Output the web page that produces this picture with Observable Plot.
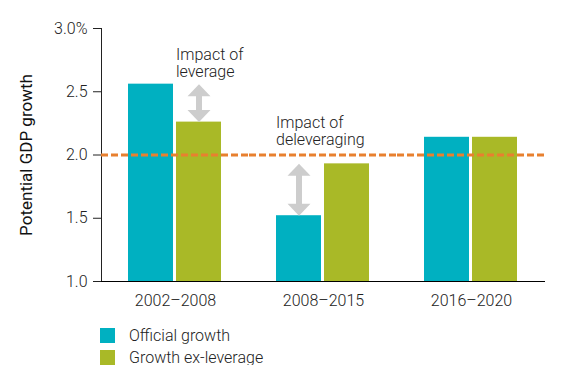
<!DOCTYPE html>
<html><head><meta charset="utf-8">
<script src="https://cdn.jsdelivr.net/npm/d3@7"></script>
<script src="https://cdn.jsdelivr.net/npm/@observablehq/plot@0.6"></script>
<style>
body{margin:0;background:#fff;font-family:Roboto,sans-serif;}
#legend{padding-left:100px;margin-top:6px;}
.row{display:flex;align-items:center;height:22px;font-size:16px;font-weight:300;color:#222;font-family:Roboto,sans-serif;}
.sw{width:15px;height:15px;margin-right:14px;flex:none;}
svg [aria-label="y-axis label"] text{font-size:17px;font-weight:400;fill:#111;}
</style></head><body><div id="chart"></div><div id="legend"></div>
<script>
const periods = ["2002–2008", "2008–2015", "2016–2020"];
const seriesNames = ["Official growth", "Growth ex-leverage"];
const officialGrowth = [2.56, 1.52, 2.14];
const exLeverageGrowth = [2.26, 1.93, 2.14];
const seriesColors = ["#00b0c1", "#a9b927"];
const yTicks = [1, 1.5, 2, 2.5, 3];
const yTickLabels = ["1.0", "1.5", "2.0", "2.5", "3.0%"];
const yLabel = "Potential GDP growth";
const referenceValue = [2.0];
const baselineValue = [1.0];
const annotationTexts = ["Impact of\nleverage", "Impact of\ndeleveraging"];
const annotationPeriods = ["2002–2008", "2008–2015"];
const annotationSeries = ["Growth ex-leverage", "Official growth"];
const annotationY = [2.85, 2.31];

const bars = [];
periods.forEach((p, i) => {
  bars.push({period: p, series: seriesNames[0], value: officialGrowth[i]});
  bars.push({period: p, series: seriesNames[1], value: exLeverageGrowth[i]});
});
const arrows = annotationPeriods.map((p, k) => {
  const i = periods.indexOf(p);
  return {period: p, series: annotationSeries[k],
    hi: Math.max(officialGrowth[i], exLeverageGrowth[i]),
    lo: Math.min(officialGrowth[i], exLeverageGrowth[i])};
});
const annotations = annotationPeriods.map((p, k) => ({period: p, series: annotationSeries[k], y: annotationY[k], text: annotationTexts[k]}));

const headUp = {draw(ctx) { ctx.moveTo(0, 0); ctx.lineTo(11.5, 12); ctx.lineTo(-11.5, 12); ctx.closePath(); }};
const headDown = {draw(ctx) { ctx.moveTo(0, 0); ctx.lineTo(11.5, -12); ctx.lineTo(-11.5, -12); ctx.closePath(); }};
const arrowGray = "#cdcdcd";

const chart = Plot.plot({
  width: 584,
  height: 318,
  marginLeft: 101,
  marginRight: 39,
  marginTop: 28,
  marginBottom: 37,
  style: {fontFamily: "Roboto, sans-serif", fontSize: "16px", fontWeight: 300, color: "#222", background: "#fff"},
  fx: {domain: periods, padding: 0, label: null, tickSize: 0, tickPadding: 13},
  x: {domain: seriesNames, axis: null, paddingInner: 0.06, paddingOuter: 0.56},
  y: {domain: [1, 3], ticks: yTicks, tickFormat: d => yTickLabels[yTicks.indexOf(d)], tickSize: 8, tickPadding: 6,
      line: true, label: yLabel, labelAnchor: "center", labelArrow: "none", labelOffset: 82},
  color: {domain: seriesNames, range: seriesColors},
  marks: [
    Plot.barY(bars, {fx: "period", x: "series", y1: 1, y2: "value", fill: "series"}),
    Plot.ruleX(arrows, {fx: "period", x: "series", y1: "hi", y2: "lo", stroke: arrowGray, strokeWidth: 6, insetTop: 11, insetBottom: 11}),
    Plot.dot(arrows, {fx: "period", x: "series", y: "hi", symbol: headUp, fill: arrowGray, stroke: null, r: 8}),
    Plot.dot(arrows, {fx: "period", x: "series", y: "lo", symbol: headDown, fill: arrowGray, stroke: null, r: 8}),
    Plot.text(annotations, {fx: "period", x: "series", y: "y", text: "text", textAnchor: "start", lineAnchor: "top", lineHeight: 1.07, dx: -23, fill: "#222", fontSize: 16}),
    Plot.ruleY(referenceValue, {stroke: "#e8802f", strokeWidth: 3, strokeDasharray: "7,3"}),
    Plot.ruleY(baselineValue, {stroke: "#000", strokeWidth: 1.2})
  ]
});
document.getElementById("chart").appendChild(chart);

const legend = document.getElementById("legend");
seriesNames.forEach((s, i) => {
  const row = document.createElement("div");
  row.className = "row";
  const sw = document.createElement("span");
  sw.className = "sw";
  sw.style.background = seriesColors[i];
  const t = document.createElement("span");
  t.textContent = s;
  row.appendChild(sw); row.appendChild(t);
  legend.appendChild(row);
});
</script></body></html>
